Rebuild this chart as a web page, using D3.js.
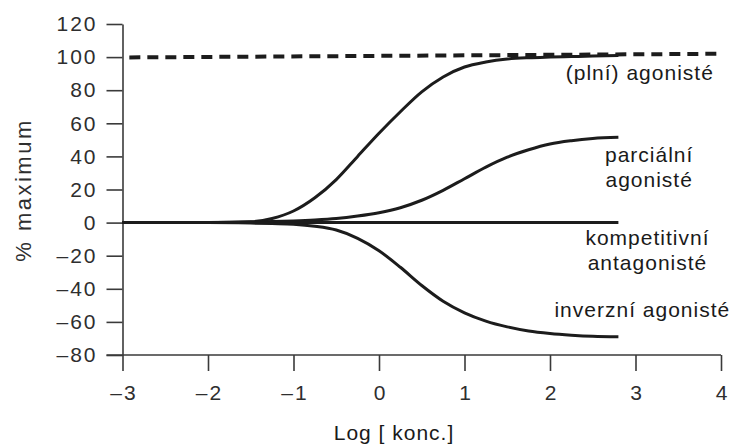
<!DOCTYPE html>
<html>
<head>
<meta charset="utf-8">
<script src="https://cdn.jsdelivr.net/npm/d3@7"></script>
<style>
  html, body { margin: 0; padding: 0; background: #fff; }
  svg { display: block; font-family: "Liberation Sans", Arial, Helvetica, sans-serif; }
  .axis path, .axis line { stroke: #3a3a3a; stroke-width: 1.6; }
  .axis text { fill: #2e2e2e; font-size: 21px; letter-spacing: 2px; }
  .curve { fill: none; stroke: #1c1c1c; stroke-width: 3; stroke-linecap: butt; }
  .label { fill: #1a1a1a; font-size: 21px; letter-spacing: 1px; text-anchor: middle; }
</style>
</head>
<body>
<svg id="chart" width="739" height="447"></svg>
<script>
// Log concentration grid where each curve is sampled
const logConc = [-3, -2.5, -2, -1.5, -1.25, -1, -0.75, -0.5, -0.25, 0, 0.25, 0.5, 0.75, 1, 1.25, 1.5, 1.75, 2, 2.25, 2.5, 2.8];

// Response (% of maximum) for each ligand type
const fullAgonist = [0, 0, 0, 0.5, 2.5, 7, 15, 26, 40, 54, 67, 79, 88, 94, 97, 98.8, 99.6, 100, 100.3, 100.6, 101];
const partialAgonist = [0, 0, 0, 0.3, 0.6, 1, 1.6, 2.5, 4, 6, 9, 13.5, 19.5, 26.5, 33.5, 39.5, 44, 47.5, 49.5, 50.8, 51.5];
const competitiveAntagonist = [0, 0, 0, 0, 0, 0, 0, 0, 0, 0, 0, 0, 0, 0, 0, 0, 0, 0, 0, 0, 0];
const inverseAgonist = [0, 0, 0, -0.3, -0.6, -1, -2.2, -4.5, -9.5, -17, -27, -38, -47.5, -54.5, -59.5, -63, -65.5, -67, -68, -68.7, -69];

// Maximal system response (dashed reference line)
const maxLogConc = [-2.92, 3.97];
const maxResponse = [99.8, 102];

// Axis ticks
const xTicks = [-3, -2, -1, 0, 1, 2, 3, 4];
const yTicks = [-80, -60, -40, -20, 0, 20, 40, 60, 80, 100, 120];

// Curve labels: text lines and the anchor of the first baseline
const labels = [
  { lines: ["(plní) agonisté"], lx: 3.05, ly: 86.2 },
  { lines: ["parciální", "agonisté"], lx: 3.16, ly: 36.6 },
  { lines: ["kompetitivní", "antagonisté"], lx: 3.14, ly: -13.5 },
  { lines: ["inverzní agonisté"], lx: 3.08, ly: -57 }
];

const svg = d3.select("#chart");
const x = d3.scaleLinear().domain([-3, 4]).range([122.5, 721]);
const y = d3.scaleLinear().domain([-80, 120]).range([355, 24]);

const minus = d => (d < 0 ? "\u2013" + Math.abs(d) : String(d));

// Y axis
svg.append("g")
  .attr("class", "axis")
  .attr("transform", `translate(${x(-3)},0)`)
  .call(d3.axisLeft(y).tickValues(yTicks).tickSize(16).tickSizeOuter(0).tickPadding(9).tickFormat(minus));

// X axis, drawn along the lowest y value
const xAxis = svg.append("g")
  .attr("class", "axis")
  .attr("transform", `translate(0,${y(-80)})`)
  .call(d3.axisBottom(x).tickValues(xTicks).tickSize(16).tickSizeOuter(0).tickPadding(14).tickFormat(minus));
xAxis.select(".domain").attr("d", `M${x(-3) - 16},0H${x(4)}`);
xAxis.selectAll(".tick text").attr("dx", "1px");

// Axis titles
svg.append("text")
  .attr("transform", `translate(31,190) rotate(-90)`)
  .attr("text-anchor", "middle")
  .style("font-size", "22px")
  .style("letter-spacing", "2.5px")
  .style("fill", "#2e2e2e")
  .text("% maximum");

svg.append("text")
  .attr("x", 394)
  .attr("y", 440)
  .attr("text-anchor", "middle")
  .style("font-size", "21px")
  .style("letter-spacing", "1px")
  .style("fill", "#1a1a1a")
  .text("Log [ konc.]");

// Curves
const line = d3.line()
  .x(d => x(d[0]))
  .y(d => y(d[1]))
  .curve(d3.curveMonotoneX);

[fullAgonist, partialAgonist, competitiveAntagonist, inverseAgonist].forEach(series => {
  svg.append("path")
    .attr("class", "curve")
    .attr("d", line(logConc.map((c, i) => [c, series[i]])));
});

svg.append("path")
  .attr("class", "curve")
  .style("stroke-width", 4)
  .style("stroke-dasharray", "11,7")
  .attr("d", d3.line().x(d => x(d[0])).y(d => y(d[1]))(maxLogConc.map((c, i) => [c, maxResponse[i]])));

// Curve labels
labels.forEach(l => {
  const t = svg.append("text").attr("class", "label");
  l.lines.forEach((s, i) => {
    t.append("tspan")
      .attr("x", x(l.lx))
      .attr("y", y(l.ly) + i * 25)
      .text(s);
  });
});
</script>
</body>
</html>
